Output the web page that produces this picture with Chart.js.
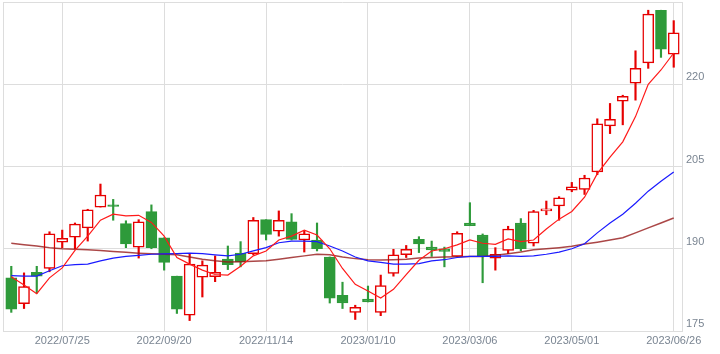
<!DOCTYPE html>
<html>
<head>
<meta charset="utf-8">
<script src="https://cdn.jsdelivr.net/npm/chart.js@4.4.1/dist/chart.umd.min.js"></script>
<style>
  html, body { margin: 0; padding: 0; background: #fff; }
  #wrap { width: 720px; height: 354px; }
</style>
</head>
<body>
<div id="wrap"><canvas id="chart"></canvas></div>
<script>
// weekly candles, first trading day of each week
const weeks = [
    '2022/06/27', '2022/07/04', '2022/07/11', '2022/07/19', '2022/07/25', '2022/08/01',
    '2022/08/08', '2022/08/15', '2022/08/22', '2022/08/29', '2022/09/05', '2022/09/12',
    '2022/09/20', '2022/09/26', '2022/10/03', '2022/10/11', '2022/10/17', '2022/10/24',
    '2022/10/31', '2022/11/07', '2022/11/14', '2022/11/21', '2022/11/28', '2022/12/05',
    '2022/12/12', '2022/12/19', '2022/12/26', '2023/01/04', '2023/01/10', '2023/01/16',
    '2023/01/23', '2023/01/30', '2023/02/06', '2023/02/13', '2023/02/20', '2023/02/27',
    '2023/03/06', '2023/03/13', '2023/03/20', '2023/03/27', '2023/04/03', '2023/04/10',
    '2023/04/17', '2023/04/24', '2023/05/01', '2023/05/08', '2023/05/15', '2023/05/22',
    '2023/05/29', '2023/06/05', '2023/06/12', '2023/06/19', '2023/06/26'
];

const opens = [
    184.7, 180.0, 185.7, 186.4, 191.2, 192.1, 193.8, 197.6, 198.0, 194.6, 190.3, 196.8,
    192.0, 185.0, 177.9, 184.8, 184.9, 188.1, 189.2, 189.1, 195.3, 193.2, 194.9, 191.6,
    191.6, 188.5, 181.5, 178.4, 180.8, 178.4, 185.5, 188.9, 191.7, 190.3, 190.0, 188.6,
    194.7, 192.5, 188.3, 189.7, 194.7, 191.0, 196.9, 197.8, 200.7, 200.8, 204.0, 212.4,
    216.9, 220.2, 223.9, 233.5, 225.5
];
const highs = [
    186.8, 185.6, 186.8, 193.1, 193.4, 194.7, 197.2, 201.8, 199.0, 195.1, 195.3, 198.0,
    192.0, 185.0, 189.0, 187.8, 188.7, 190.5, 191.3, 195.7, 195.3, 196.9, 196.4, 193.2,
    194.7, 188.5, 183.9, 179.7, 183.2, 185.2, 189.9, 190.6, 192.2, 191.4, 190.3, 193.1,
    198.4, 192.7, 190.2, 194.1, 195.5, 197.0, 198.7, 199.5, 202.1, 203.4, 213.7, 216.5,
    218.0, 226.1, 233.5, 233.5, 231.6
];
const lows = [
    178.4, 179.1, 181.9, 185.8, 190.2, 190.0, 191.4, 197.6, 195.2, 190.2, 188.3, 190.0,
    186.1, 178.2, 176.9, 181.2, 184.0, 186.2, 186.7, 188.9, 191.6, 192.3, 191.6, 189.4,
    189.6, 180.1, 179.1, 177.1, 180.3, 177.8, 185.0, 188.4, 189.3, 188.6, 186.7, 188.6,
    194.2, 183.8, 186.1, 189.1, 189.6, 190.5, 196.2, 195.2, 200.4, 199.9, 203.5, 211.0,
    212.6, 217.1, 222.9, 224.9, 223.1
];
const closes = [
    179.0, 183.1, 185.0, 192.7, 191.9, 194.5, 197.1, 199.8, 197.7, 190.9, 194.9, 190.2,
    187.5, 179.0, 187.2, 187.0, 185.7, 187.1, 187.6, 195.2, 192.6, 195.2, 191.7, 192.7,
    190.0, 181.0, 180.1, 179.3, 180.3, 183.3, 188.9, 189.9, 190.9, 189.8, 189.5, 192.8,
    194.2, 188.7, 189.0, 193.6, 190.0, 196.8, 197.3, 199.3, 201.3, 202.9, 212.8, 213.6,
    217.8, 222.9, 232.8, 226.4, 229.4
];

// moving averages (short / mid / long)
const maShort = [
    184.9, 183.4, 181.8, 184.7, 186.5, 189.7, 192.3, 195.2, 196.3, 196.0, 196.1, 194.8,
    192.3, 188.4, 187.2, 186.1, 185.3, 185.2, 186.8, 188.7, 189.6, 191.6, 192.3, 193.4,
    192.5, 190.0, 186.4, 183.5, 182.3, 181.0, 182.6, 185.3, 187.9, 189.6, 190.0, 190.7,
    191.6, 191.0, 190.8, 191.8, 191.3, 191.6, 193.6, 195.4, 196.8, 199.4, 203.7, 206.7,
    209.5, 214.1, 220.0, 222.6, 225.7
];
const maMid = [
    185.1, 185.0, 185.0, 186.0, 186.9, 187.1, 187.2, 187.8, 188.3, 188.6, 188.8, 189.0,
    189.05, 189.1, 189.2, 189.1, 188.9, 188.7, 189.0, 189.6, 190.2, 191.1, 191.4, 191.4,
    191.3, 190.5, 189.6, 188.5, 187.8, 187.5, 187.2, 187.2, 187.3, 187.8, 188.0, 188.4,
    188.6, 188.6, 188.6, 188.7, 188.6, 188.7, 189.0, 189.4, 190.0, 190.9, 192.9, 194.7,
    196.3, 198.3, 200.5, 202.3, 204.0
];
const maLong = [
    191.0, 190.75, 190.5, 190.2, 190.0, 189.9, 189.8, 189.7, 189.5, 189.35, 189.2, 189.1,
    189.0, 188.9, 188.5, 188.1, 187.8, 187.6, 187.65, 187.7, 187.8, 188.1, 188.4, 188.7,
    189.0, 188.9, 188.5, 188.2, 188.0, 187.95, 188.0, 188.1, 188.3, 188.4, 188.5, 188.55,
    188.6, 188.6, 188.8, 189.1, 189.4, 189.8, 190.0, 190.2, 190.45, 190.85, 191.2, 191.6,
    192.0, 192.9, 193.8, 194.7, 195.6
];

const tickDates = ['2022/07/25', '2022/09/20', '2022/11/14', '2023/01/10', '2023/03/06', '2023/05/01', '2023/06/26'];

const UP = '#e60000';
const DOWN = '#2e9a3a';
const GRID = '#dddddd';
const LABEL = '#7a8592';

const isUp = closes.map((c, i) => c >= opens[i]);
const candleColors = isUp.map(u => u ? UP : DOWN);
const toPoints = arr => arr.map((v, i) => ({ x: i, y: v }));

const X_MIN = -0.65, X_MAX = 52.65;

new Chart(document.getElementById('chart'), {
    type: 'bar',
    data: {
        datasets: [
            {
                type: 'line', label: 'MA short', data: toPoints(maShort),
                borderColor: '#ff1a1a', borderWidth: 1.2, pointRadius: 0, tension: 0, order: 0
            },
            {
                type: 'line', label: 'MA mid', data: toPoints(maMid),
                borderColor: '#1a1aff', borderWidth: 1.2, pointRadius: 0, tension: 0, order: 1
            },
            {
                type: 'line', label: 'MA long', data: toPoints(maLong),
                borderColor: 'rgba(150,25,25,0.8)', borderWidth: 1.5, pointRadius: 0, tension: 0, order: 2
            },
            {
                label: 'body',
                data: weeks.map((w, i) => ({ x: i, y: [opens[i], closes[i]] })),
                backgroundColor: isUp.map(u => u ? '#ffffff' : DOWN),
                borderColor: candleColors,
                borderWidth: 1.5,
                borderSkipped: false,
                barThickness: 11,
                grouped: false,
                order: 3
            },
            {
                label: 'wick',
                data: weeks.map((w, i) => ({ x: i, y: [lows[i], highs[i]] })),
                backgroundColor: candleColors,
                borderWidth: 0,
                barThickness: 1.5,
                grouped: false,
                order: 4
            }
        ]
    },
    options: {
        responsive: true,
        maintainAspectRatio: false,
        animation: false,
        devicePixelRatio: 1,
        layout: { padding: { left: 3, top: 2, right: 0, bottom: 0 } },
        plugins: {
            legend: { display: false },
            tooltip: { enabled: false }
        },
        scales: {
            x: {
                type: 'linear',
                offset: false,
                min: X_MIN,
                max: X_MAX,
                afterBuildTicks: (scale) => {
                    scale.ticks = [{ value: X_MIN }].concat(tickDates.map(d => ({ value: weeks.indexOf(d) })));
                },
                afterFit: (scale) => {
                    scale.height = 23;
                    scale.paddingLeft = 0;
                    scale.paddingRight = 0;
                },
                grid: { color: GRID, drawTicks: false, offset: false },
                border: { color: GRID },
                ticks: {
                    autoSkip: false,
                    maxRotation: 0,
                    padding: 3,
                    color: LABEL,
                    font: { family: 'Liberation Sans, Arial, sans-serif', size: 11 },
                    callback: (value) => tickDates.includes(weeks[value]) ? weeks[value] : ''
                }
            },
            y: {
                position: 'right',
                min: 175,
                max: 235,
                afterFit: (scale) => {
                    scale.width = 38;
                    scale.paddingTop = 0;
                    scale.paddingBottom = 0;
                },
                grid: { color: GRID, drawTicks: false },
                border: { color: GRID },
                ticks: {
                    stepSize: 15,
                    padding: 4,
                    labelOffset: -7,
                    color: LABEL,
                    font: { family: 'Liberation Sans, Arial, sans-serif', size: 11 },
                    callback: (value) => value === 235 ? '' : value
                }
            }
        }
    }
});
</script>
</body>
</html>
